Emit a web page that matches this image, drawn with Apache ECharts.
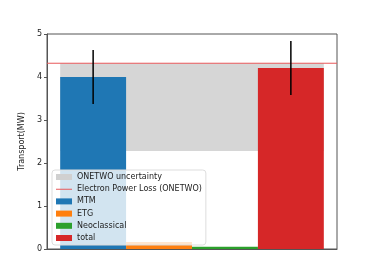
<!DOCTYPE html>
<html>
<head>
<meta charset="utf-8">
<script src="https://cdn.jsdelivr.net/npm/echarts@6/dist/echarts.min.js"></script>
<style>html,body{margin:0;padding:0;background:#fff}#c{width:374px;height:280px}</style>
</head>
<body>
<div id="c"></div>
<script>
const categories = ['MTM', 'ETG', 'Neoclassical', 'total'];
const positions = [0, 1, 2, 3];
const values = [4.0, 0.16, 0.05, 4.21];
const errors = [0.63, 0, 0, 0.63];
const colors = ['#1f77b4', '#ff7f0e', '#2ca02c', '#d62728'];
const uncertaintyRange = [2.28, 4.32];
const uncertaintyX = [-0.5, 3.5];
const powerLoss = 4.32;
const yTicks = [0, 1, 2, 3, 4, 5];

const chart = echarts.init(document.getElementById('c'), null, {renderer: 'canvas'});
const font = 'DejaVu Sans';
const lossColor = '#e8585a';

function barRender(params, api) {
  const x = api.value(0), y = api.value(1);
  const p0 = api.coord([x - 0.5, y]);
  const p1 = api.coord([x + 0.5, 0]);
  return {
    type: 'rect',
    shape: {x: p0[0], y: p0[1], width: p1[0] - p0[0], height: p1[1] - p0[1]},
    style: {fill: api.visual('color')}
  };
}

const errData = [];
positions.forEach(function (p, i) {
  if (errors[i] > 0) errData.push([p, values[i] - errors[i], values[i] + errors[i]]);
});

const series = [];
series.push({
  name: 'ONETWO uncertainty',
  type: 'custom',
  z: 1,
  color: '#d6d6d6',
  itemStyle: {color: '#d6d6d6'},
  data: [[uncertaintyX[0], uncertaintyRange[0], uncertaintyX[1], uncertaintyRange[1]]],
  encode: {x: [0, 2], y: [1, 3]},
  renderItem: function (params, api) {
    const p0 = api.coord([api.value(0), api.value(3)]);
    const p1 = api.coord([api.value(2), api.value(1)]);
    return {type: 'rect', shape: {x: p0[0], y: p0[1], width: p1[0] - p0[0], height: p1[1] - p0[1]}, style: {fill: '#d6d6d6'}};
  }
});
series.push({
  name: 'Electron Power Loss (ONETWO)',
  type: 'line',
  z: 3,
  color: lossColor,
  symbol: 'none',
  lineStyle: {color: lossColor, width: 1},
  itemStyle: {color: lossColor},
  data: [[-0.7, powerLoss], [3.7, powerLoss]]
});
categories.forEach(function (name, i) {
  series.push({
    name: name,
    type: 'custom',
    z: 2,
    color: colors[i],
    itemStyle: {color: colors[i]},
    data: [[positions[i], values[i]]],
    encode: {x: 0, y: 1},
    renderItem: barRender
  });
});
series.push({
  name: 'err',
  type: 'custom',
  z: 4,
  data: errData,
  encode: {x: 0, y: [1, 2]},
  renderItem: function (params, api) {
    const a = api.coord([api.value(0), api.value(1)]);
    const b = api.coord([api.value(0), api.value(2)]);
    return {type: 'rect', shape: {x: a[0] - 0.75, y: b[1], width: 1.5, height: a[1] - b[1]}, style: {fill: '#000'}};
  }
});

const thinLine = 'path://M0,0h0.01v0.01h-0.01z M0,2.8h20v1.4h-20z M0,7h0.01v0.01h-0.01z';

chart.setOption({
  animation: false,
  grid: {left: 47, right: 37, top: 34, bottom: 31, show: true, borderColor: '#555', borderWidth: 1, backgroundColor: 'transparent'},
  xAxis: {
    type: 'value', min: -0.7, max: 3.7,
    axisLabel: {show: false}, axisTick: {show: false}, splitLine: {show: false},
    axisLine: {show: true, onZero: false, lineStyle: {color: '#555'}}
  },
  yAxis: {
    type: 'value', min: yTicks[0], max: yTicks[yTicks.length - 1], interval: 1,
    name: 'Transport(MW)', nameLocation: 'middle', nameGap: 14,
    nameTextStyle: {fontFamily: font, fontSize: 8, color: '#222'},
    axisLabel: {fontFamily: font, fontSize: 8, color: '#222', margin: 5},
    axisTick: {show: true, inside: false, length: 3, lineStyle: {color: '#555'}},
    axisLine: {show: true, onZero: false, lineStyle: {color: '#555'}},
    splitLine: {show: false}
  },
  legend: {
    orient: 'vertical', left: 52, top: 170,
    backgroundColor: 'rgba(255,255,255,0.8)', borderColor: '#ddd', borderWidth: 1, borderRadius: 3,
    padding: [3, 4, 3, 4], itemGap: 4.2, itemWidth: 16, itemHeight: 6,
    textStyle: {fontFamily: font, fontSize: 8, lineHeight: 7, color: '#222', padding: [0, 0, 0, 0]},
    data: [
      {name: 'ONETWO uncertainty', icon: 'rect', itemStyle: {color: '#d0d0d0'}},
      {name: 'Electron Power Loss (ONETWO)', icon: thinLine, itemStyle: {color: lossColor, borderWidth: 0}, lineStyle: {color: lossColor, width: 0}},
      {name: 'MTM', icon: 'rect'},
      {name: 'ETG', icon: 'rect'},
      {name: 'Neoclassical', icon: 'rect'},
      {name: 'total', icon: 'rect'}
    ]
  },
  series: series
});
</script>
</body>
</html>
